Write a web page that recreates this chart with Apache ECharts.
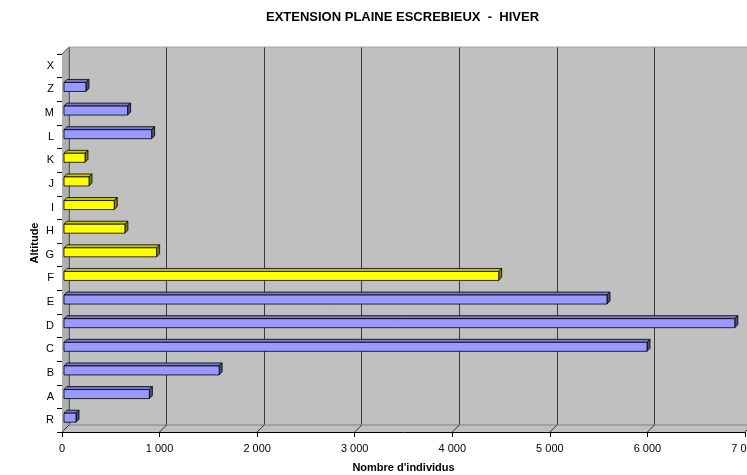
<!DOCTYPE html>
<html>
<head>
<meta charset="utf-8">
<title>Extension plaine Escrebieux - Hiver</title>
<script src="https://cdn.jsdelivr.net/npm/echarts@6/dist/echarts.min.js"></script>
<style>
  html, body { margin: 0; padding: 0; background: #fff; }
  #chart { width: 747px; height: 475px; }
</style>
</head>
<body>
<div id="chart"></div>
<script>
// Altitude classes, bottom to top
const categories = ['R', 'A', 'B', 'C', 'D', 'E', 'F', 'G', 'H', 'I', 'J', 'K', 'L', 'M', 'Z', 'X'];
// Number of individuals per altitude class
const counts = [123, 875, 1590, 5975, 6875, 5565, 4455, 949, 624, 515, 256, 215, 898, 652, 225, 0];
// Classes drawn in yellow
const yellowClasses = ['F', 'G', 'H', 'I', 'J', 'K'];
// Value axis ticks
const xTicks = [0, 1000, 2000, 3000, 4000, 5000, 6000, 7000];

const FONT = 'Liberation Sans, Arial, sans-serif';
const DEPTH = 7;      // wall depth (px, up-right)
const BAR_SHIFT = 2;  // bar front face sits slightly behind the front plane
const BAR_H = 9;      // front face height
const BAR_D = 3;      // bar depth

const palette = {
  blue:   { front: '#9999ff', top: '#7a7acc', side: '#4d4d80' },
  yellow: { front: '#ffff00', top: '#c8c800', side: '#808000' }
};

function fmt(v) {
  return String(v).replace(/\B(?=(\d{3})+(?!\d))/g, ' ');
}

function barData(yellow) {
  const out = [];
  categories.forEach((c, i) => {
    const isY = yellowClasses.indexOf(c) >= 0;
    if (isY === yellow && counts[i] > 0) out.push([counts[i], i]);
  });
  return out;
}

function makeBarRenderer(col) {
  return function (params, api) {
    const v = api.value(0), idx = api.value(1);
    const p0 = api.coord([0, idx]);
    const p1 = api.coord([v, idx]);
    const x0 = p0[0] + BAR_SHIFT;
    const x1 = p1[0] + BAR_SHIFT;
    const cy = p0[1] - 2.5;
    const yt = cy - BAR_H / 2, yb = cy + BAR_H / 2;
    const stroke = { stroke: '#000', lineWidth: 0.8 };
    return {
      type: 'group',
      children: [
        { type: 'polygon', shape: { points: [[x0, yt], [x0 + BAR_D, yt - BAR_D], [x1 + BAR_D, yt - BAR_D], [x1, yt]] },
          style: Object.assign({ fill: col.top }, stroke) },
        { type: 'polygon', shape: { points: [[x1, yt], [x1 + BAR_D, yt - BAR_D], [x1 + BAR_D, yb - BAR_D], [x1, yb]] },
          style: Object.assign({ fill: col.side }, stroke) },
        { type: 'rect', shape: { x: x0, y: yt, width: x1 - x0, height: BAR_H },
          style: Object.assign({ fill: col.front }, stroke) }
      ]
    };
  };
}

const chart = echarts.init(document.getElementById('chart'), null, { renderer: 'canvas' });

const option = {
  animation: false,
  title: {
    text: 'EXTENSION PLAINE ESCREBIEUX  -  HIVER',
    left: 261,
    top: 6,
    textStyle: { fontFamily: FONT, fontSize: 13, fontWeight: 'bold', color: '#000' }
  },
  grid: [
    // front plane: axes and bars
    { left: 62, top: 54, width: 683, height: 378, outerBoundsMode: 'none', containLabel: false },
    // back wall
    { left: 62 + DEPTH, top: 54 - DEPTH, width: 683, height: 378, show: true,
      backgroundColor: '#c0c0c0', borderWidth: 0, z: 0, outerBoundsMode: 'none', containLabel: false }
  ],
  xAxis: [
    {
      gridIndex: 0, type: 'value', min: 0, max: 7000, interval: 1000,
      name: "Nombre d'individus", nameLocation: 'middle', nameGap: 30,
      nameTextStyle: { fontFamily: FONT, fontSize: 11, fontWeight: 'bold', color: '#000' },
      axisLine: { show: true, lineStyle: { color: '#000', width: 1 } },
      axisTick: { show: true, length: 5, lineStyle: { color: '#000' } },
      axisLabel: { fontFamily: FONT, fontSize: 11, color: '#000', margin: 11, formatter: fmt },
      splitLine: { show: false }
    },
    {
      gridIndex: 1, type: 'value', min: 0, max: 7000, interval: 1000,
      axisLine: { show: false }, axisTick: { show: false }, axisLabel: { show: false },
      splitLine: { show: true, lineStyle: { color: '#3a3a3a', width: 1 } }
    }
  ],
  yAxis: [
    {
      gridIndex: 0, type: 'category', data: categories,
      name: 'Altitude', nameLocation: 'middle', nameGap: 22, nameRotate: 90,
      nameMoveOverlap: false,
      nameTextStyle: { fontFamily: FONT, fontSize: 11, fontWeight: 'bold', color: '#000' },
      axisLine: { show: true, lineStyle: { color: '#000', width: 1 } },
      axisTick: { show: true, length: 5, alignWithLabel: false, lineStyle: { color: '#000' } },
      axisLabel: { fontFamily: FONT, fontSize: 11, color: '#000', margin: 8 },
      splitLine: { show: false }
    },
    {
      gridIndex: 1, type: 'category', data: categories, show: false
    }
  ],
  series: [
    {
      // side wall, floor and floor tick lines
      type: 'custom', xAxisIndex: 0, yAxisIndex: 0, z: 1, silent: true,
      data: [[0, 0]],
      renderItem: function (params, api) {
        const cs = params.coordSys;
        const L = cs.x, T = cs.y, B = cs.y + cs.height, R = cs.x + cs.width;
        const children = [
          { type: 'polygon', shape: { points: [[L, T], [L + DEPTH, T - DEPTH], [L + DEPTH, B - DEPTH], [L, B]] },
            style: { fill: '#b0b0b0', stroke: null } },
          { type: 'polygon', shape: { points: [[L, B], [L + DEPTH, B - DEPTH], [R + DEPTH, B - DEPTH], [R, B]] },
            style: { fill: '#c0c0c0', stroke: null } },
          { type: 'line', shape: { x1: L + DEPTH, y1: B - DEPTH, x2: R + DEPTH, y2: B - DEPTH },
            style: { stroke: '#808080', lineWidth: 1 } },
          { type: 'line', shape: { x1: L + DEPTH, y1: T - DEPTH, x2: R + DEPTH, y2: T - DEPTH },
            style: { stroke: '#a0a0a0', lineWidth: 1 } },
          { type: 'line', shape: { x1: L, y1: T, x2: L + DEPTH, y2: T - DEPTH },
            style: { stroke: '#606060', lineWidth: 1 } },
          { type: 'line', shape: { x1: L + DEPTH, y1: T - DEPTH, x2: L + DEPTH, y2: B - DEPTH },
            style: { stroke: '#808080', lineWidth: 1 } }
        ];
        xTicks.forEach(function (t) {
          const p = api.coord([t, 0]);
          children.push({ type: 'line', shape: { x1: p[0], y1: B, x2: p[0] + DEPTH, y2: B - DEPTH },
            style: { stroke: '#303030', lineWidth: 1 } });
        });
        return { type: 'group', children: children };
      }
    },
    {
      name: 'Bleu', type: 'custom', xAxisIndex: 0, yAxisIndex: 0, z: 3,
      encode: { x: 0, y: 1 },
      data: barData(false),
      renderItem: makeBarRenderer(palette.blue)
    },
    {
      name: 'Jaune', type: 'custom', xAxisIndex: 0, yAxisIndex: 0, z: 3,
      encode: { x: 0, y: 1 },
      data: barData(true),
      renderItem: makeBarRenderer(palette.yellow)
    }
  ]
};

chart.setOption(option);
</script>
</body>
</html>
